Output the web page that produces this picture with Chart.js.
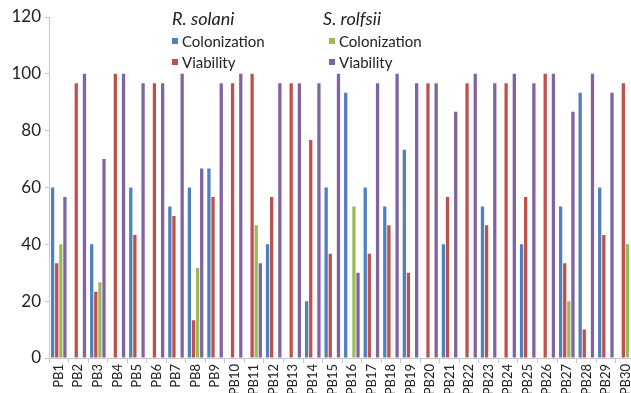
<!DOCTYPE html>
<html>
<head>
<meta charset="utf-8">
<script src="https://cdn.jsdelivr.net/npm/chart.js@4"></script>
<style>
  html, body { margin: 0; padding: 0; background: #fff; overflow: hidden; }
  #wrap { position: relative; width: 631px; height: 393px; overflow: hidden; }
  #chart { position: absolute; left: 0; top: 0; }
  .lg { position: absolute; font-family: Lato, "Noto Sans", sans-serif; font-size: 15px; color: #222; line-height: 21px; white-space: nowrap; }
  .lg.head { font-style: italic; font-size: 18px; }
  .lg .sw { display: inline-block; width: 6px; height: 6px; margin-right: 4px; vertical-align: 3px; }
</style>
</head>
<body>
<div id="wrap">
  <canvas id="chart" width="642" height="393"></canvas>
  <div class="lg head" style="left:172px; top:8px;">R. solani</div>
  <div class="lg" style="left:172px; top:31px;"><span class="sw" style="background:#4f81bd"></span>Colonization</div>
  <div class="lg" style="left:172px; top:52px;"><span class="sw" style="background:#c0504d"></span>Viability</div>
  <div class="lg head" style="left:323px; top:8px;">S. rolfsii</div>
  <div class="lg" style="left:329px; top:31px;"><span class="sw" style="background:#9bbb59"></span>Colonization</div>
  <div class="lg" style="left:329px; top:52px;"><span class="sw" style="background:#8064a2"></span>Viability</div>
</div>
<script>
const isolates = Array.from({ length: 30 }, (_, i) => 'PB' + (i + 1));

// R. solani
const rsColonization = [60, 0, 40, 0, 60, 0, 53.3, 60, 66.7, 0,
  0, 40, 0, 20, 60, 93.3, 60, 53.3, 73.3, 0,
  40, 0, 53.3, 0, 40, 0, 53.3, 93.3, 60, 0];
const rsViability = [33.3, 96.7, 23.3, 100, 43.3, 96.7, 50, 13.3, 56.7, 96.7,
  100, 56.7, 96.7, 76.7, 36.7, 0, 36.7, 46.7, 30, 96.7,
  56.7, 96.7, 46.7, 96.7, 56.7, 100, 33.3, 10, 43.3, 96.7];

// S. rolfsii
const srColonization = [40, 0, 26.7, 0, 0, 0, 0, 31.7, 0, 0,
  46.7, 0, 0, 0, 0, 53.3, 0, 0, 0, 0,
  0, 0, 0, 0, 0, 0, 20, 0, 0, 40];
const srViability = [56.7, 100, 70, 100, 96.7, 96.7, 100, 66.7, 96.7, 100,
  33.3, 96.7, 96.7, 96.7, 100, 30, 96.7, 100, 96.7, 96.7,
  86.7, 100, 96.7, 100, 96.7, 100, 86.7, 100, 93.3, 0];

const yTicks = [0, 20, 40, 60, 80, 100, 120];

const font = 'Lato, "Noto Sans", sans-serif';

function series(label, data, color) {
  return {
    label, data, backgroundColor: color, borderWidth: 0,
    categoryPercentage: 0.84, barPercentage: 0.8
  };
}

new Chart(document.getElementById('chart').getContext('2d'), {
  type: 'bar',
  data: {
    labels: isolates,
    datasets: [
      series('R. solani Colonization', rsColonization, '#4f81bd'),
      series('R. solani Viability', rsViability, '#c0504d'),
      series('S. rolfsii Colonization', srColonization, '#9bbb59'),
      series('S. rolfsii Viability', srViability, '#8064a2')
    ]
  },
  options: {
    responsive: false,
    animation: false,
    layout: { padding: { top: 17, right: 0, left: 1, bottom: 0 } },
    plugins: { legend: { display: false }, tooltip: { enabled: false } },
    scales: {
      x: {
        grid: { display: true, drawOnChartArea: false, offset: true, tickLength: 5, color: '#c8c8c8' },
        border: { color: '#c8c8c8' },
        ticks: { minRotation: 90, maxRotation: 90, autoSkip: false, color: '#222', font: { family: font, size: 13 }, padding: 1 },
        afterFit: s => { s.height = 35; }
      },
      y: {
        min: 0, max: 120,
        afterBuildTicks: s => { s.ticks = yTicks.map(v => ({ value: v })); },
        grid: { display: true, drawOnChartArea: false, tickLength: 4, color: '#c8c8c8' },
        border: { color: '#c8c8c8' },
        ticks: { color: '#222', font: { family: font, size: 17 }, padding: 4 },
        afterFit: s => { s.width = 48; }
      }
    }
  }
});
</script>
</body>
</html>
